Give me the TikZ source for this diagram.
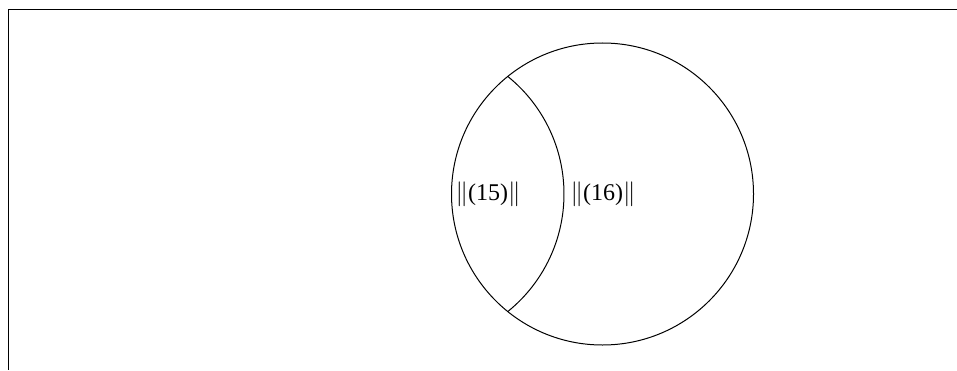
\documentclass[tikz,border=0pt]{standalone}
\usepackage{fontspec}
\setmainfont{Liberation Serif}
\usetikzlibrary{calc}
\begin{document}
\begin{tikzpicture}[x=1pt,y=1pt,
  lbl/.style={font=\fontsize{24}{28}\selectfont, inner sep=0pt},
  ln/.style={draw=black, line width=1pt}]
\useasboundingbox (0,0) rectangle (957,370);
\draw[ln] (957,360) -- (8.5,360) -- (8.5,0);
\coordinate (cB) at (602.5,176);
\coordinate (cA) at (413,176);
\draw[ln] (cB) circle[radius=151];
\draw[ln] ($(cA)+(-51.1:151)$) arc[start angle=-51.1, end angle=51.1, radius=151];
\node[lbl] (t15) at (488,176) {$\|$(15)$\|$};
\node[lbl] (t16) at (603,176) {$\|$(16)$\|$};
\end{tikzpicture}
\end{document}
